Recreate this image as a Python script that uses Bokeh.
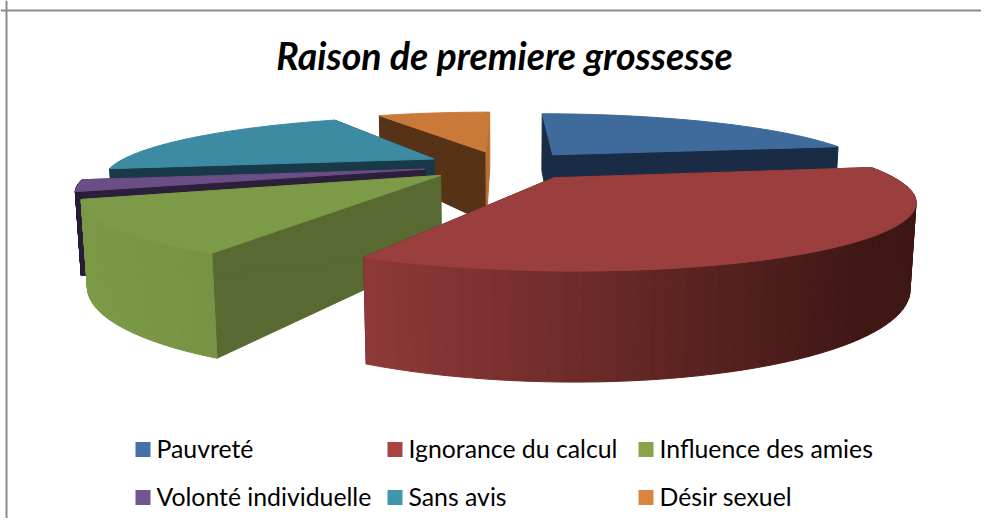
import numpy as np
from bokeh.plotting import figure
from bokeh.models import Span
from bokeh.core.properties import value
from bokeh.embed import file_html
from bokeh.resources import INLINE

title = "Raison de premiere grossesse"
categories = ["Pauvreté", "Ignorance du calcul", "Influence des amies",
              "Volonté individuelle", "Sans avis", "Désir sexuel"]
shares = [22.4, 35.0, 12.1, 2.8, 20.2, 7.5]
top_colors = ["#3F6A9C", "#9B3F3E", "#7C9A47", "#6A4E85", "#3D8AA3", "#C97A38"]
side_colors = ["#1A2C45", "#45191A", "#586A31", "#2C1F3C", "#183A48", "#563216"]
legend_colors = ["#4272A8", "#A84442", "#87A34C", "#70558F", "#3F96AD", "#DB843D"]
# outer wall colour at the left and at the right end of each slice's rim
rim_left = ["#1A2C45", "#8F3A38", "#7C9A47", "#2C1F3C", "#183A48", "#B96F2F"]
rim_right = ["#1A2C45", "#3F1715", "#789344", "#2C1F3C", "#183A48", "#B96F2F"]
# inner walls: (start side, end side)
wall_start = side_colors
wall_end = ["#1A2C45", "#45191A", "#586A31", "#2C1F3C", "#183A48", "#B96F2F"]
draw_order = [5, 0, 4, 3, 2, 1]
front_slices = (1, 2, 3)

# camera of the 3-D pie
CX, CY, F, D, T = 503.0, 164.81, 1108.0, 3.456, 0.1817
HEIGHT, EXPLODE = 0.2404, 0.25


def project(x, y, z):
    st, ct = np.sin(T), np.cos(T)
    w = D + y * ct - z * st
    return CX + F * x / w, CY - F * (y * st + z * ct) / w


def hexmix(a, b, t):
    ca = np.array([int(a[i:i + 2], 16) for i in (1, 3, 5)], float)
    cb = np.array([int(b[i:i + 2], 16) for i in (1, 3, 5)], float)
    c = ca + (cb - ca) * t
    return "#%02x%02x%02x" % tuple(int(round(v)) for v in c)


fr = np.array(shares, float) / sum(shares)
cum = np.concatenate([[0], np.cumsum(fr)]) * 2 * np.pi

xs, ys, cols = [], [], []


def add(px, py, col):
    xs.append(list(map(float, px)))
    ys.append(list(map(float, py)))
    cols.append(col)


for s in draw_order:
    a0, a1 = cum[s], cum[s + 1]
    m = (a0 + a1) / 2
    ox, oy = EXPLODE * np.sin(m), EXPLODE * np.cos(m)
    t = np.linspace(a0, a1, 61)
    ux, uy = ox + np.sin(t), oy + np.cos(t)
    # radial walls
    for a, col in ((a0, wall_start[s]), (a1, wall_end[s])):
        wx = np.array([ox, ox + np.sin(a), ox + np.sin(a), ox])
        wy = np.array([oy, oy + np.cos(a), oy + np.cos(a), oy])
        wz = np.array([0, 0, -HEIGHT, -HEIGHT])
        px, py = project(wx, wy, wz)
        add(px, py, col)
    # rim, strip by strip (only the slices that face the viewer)
    if s in front_slices:
        tx, ty = project(ux, uy, 0 * ux)
        bx, by = project(ux, uy, 0 * ux - HEIGHT)
        lo, hi = tx.min(), tx.max()
        for i in range(len(t) - 1):
            f = ((tx[i] + tx[i + 1]) / 2 - lo) / max(hi - lo, 1)
            col = hexmix(rim_left[s], rim_right[s], min(f * 1.1, 1))
            add([tx[i], tx[i + 1], bx[i + 1], bx[i]], [ty[i], ty[i + 1], by[i + 1], by[i]], col)
    # top
    px, py = project(np.concatenate([[ox], ux]), np.concatenate([[oy], uy]), np.zeros(len(t) + 1))
    add(px, py, top_colors[s])

p = figure(width=981, height=518, x_range=(0, 981), y_range=(518, 0),
           output_backend="svg", toolbar_location=None, min_border=0,
           outline_line_color=None)
p.xaxis.visible = False
p.yaxis.visible = False
p.grid.visible = False

p.add_layout(Span(location=6, dimension="height", line_color="#8C8C8C", line_width=2))
p.add_layout(Span(location=10, dimension="width", line_color="#8C8C8C", line_width=2))

p.patches(xs, ys, fill_color=cols, line_color=cols, line_width=1)

p.text([504], [55], text=[title], text_font=value("Lato"), text_font_style="bold italic",
       text_font_size="37.5px", text_align="center", text_baseline="middle", text_color="#000000")

lx = [135, 387, 638, 135, 387, 638]
ly = [449, 449, 449, 497, 497, 497]
p.rect([x + 7.5 for x in lx], ly, width=15, height=15, fill_color=legend_colors, line_color=None)
p.text([x + 21 for x in lx], [y - 1 for y in ly], text=categories, text_font=value("Lato"),
       text_font_size="24.8px", text_baseline="middle", text_color="#000000")

open("out.html", "w").write(file_html(p, INLINE))
